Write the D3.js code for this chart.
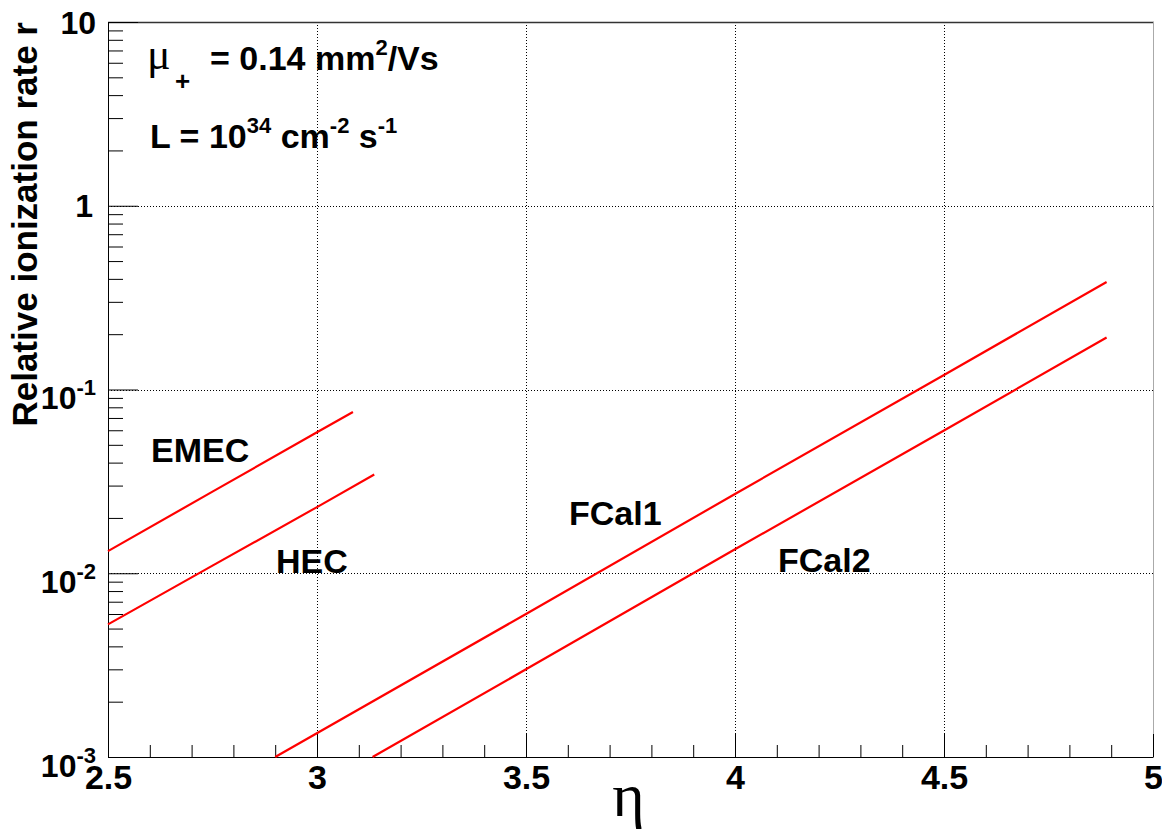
<!DOCTYPE html>
<html><head><meta charset="utf-8">
<script src="https://cdn.jsdelivr.net/npm/d3@7"></script>
<style>
body{margin:0;background:#fff}
svg{display:block}
text{font-family:"Liberation Sans",Arial,Helvetica,sans-serif;font-weight:bold;fill:#000}
</style>
</head><body>
<svg id="c" width="1162" height="833"></svg>
<script>
// ---- data ----
const etaEMEC  = [2.5, 2.75, 3.0, 3.086];
const rEMEC    = [0.0132, 0.0278, 0.0585, 0.0755];
const etaHEC   = [2.5, 2.75, 3.0, 3.137];
const rHEC     = [0.00527, 0.0110, 0.0229, 0.0345];
const etaFCal1 = [2.9, 3.5, 4.0, 4.5, 4.889];
const rFCal1   = [0.0010, 0.0060, 0.0270, 0.120, 0.385];
const etaFCal2 = [3.133, 3.5, 4.0, 4.5, 4.889];
const rFCal2   = [0.0010, 0.0030, 0.0135, 0.0598, 0.192];

const seriesNames = ["EMEC", "HEC", "FCal1", "FCal2"];
const labelEta = [2.603, 2.902, 3.603, 4.103];   // label anchor positions (eta of left edge)
const labelR   = [0.0403, 0.0100, 0.0183, 0.0102];

const xMajorTicks = [2.5, 3, 3.5, 4, 4.5, 5];
const xTickLabels = ["2.5", "3", "3.5", "4", "4.5", "5"];
const xMinorTicks = [2.6,2.7,2.8,2.9,3.1,3.2,3.3,3.4,3.6,3.7,3.8,3.9,4.1,4.2,4.3,4.4,4.6,4.7,4.8,4.9];
const yMajorTicks = [0.001, 0.01, 0.1, 1, 10];
const yTickBase   = ["10", "10", "10", "1", "10"];
const yTickExp    = ["-3", "-2", "-1", "", ""];
const xGrid = [3, 3.5, 4, 4.5, 5];
const yGrid = [0.01, 0.1, 1];

// ---- layout ----
const L = 108, R = 1153, T = 22, B = 757;
const svg = d3.select("#c");
const x = d3.scaleLinear().domain([2.5, 5]).range([L, R]);
const y = d3.scaleLog().domain([0.001, 10]).range([B, T]);

const yMinorTicks = [];
[0.001, 0.01, 0.1, 1].forEach(d => { for (let k = 2; k <= 9; k++) yMinorTicks.push(+(d * k).toPrecision(3)); });

// grid
const grid = svg.append("g").attr("stroke", "#000").attr("stroke-width", 1).attr("stroke-dasharray", "1,2");
grid.selectAll("line.v").data(xGrid).join("line").attr("class","v")
  .attr("x1", d => Math.round(x(d)) + 0.5).attr("x2", d => Math.round(x(d)) + 0.5)
  .attr("y1", T).attr("y2", B);
grid.selectAll("line.h").data(yGrid).join("line").attr("class","h")
  .attr("y1", d => Math.round(y(d)) + 0.5).attr("y2", d => Math.round(y(d)) + 0.5)
  .attr("x1", L).attr("x2", R);

// frame top / right
svg.append("line").attr("x1", L).attr("x2", R + 1).attr("y1", T + 0.5).attr("y2", T + 0.5)
  .attr("stroke", "#333").attr("stroke-width", 1.5);
svg.append("line").attr("x1", R + 0.5).attr("x2", R + 0.5).attr("y1", T).attr("y2", B)
  .attr("stroke", "#aaa").attr("stroke-width", 1);

// x axis
const gxMinor = svg.append("g").attr("transform", `translate(0,${B})`)
  .call(d3.axisBottom(x).tickValues(xMinorTicks).tickSize(-12).tickSizeOuter(0).tickFormat(""));
gxMinor.select(".domain").remove();
const gx = svg.append("g").attr("transform", `translate(0,${B})`)
  .call(d3.axisBottom(x).tickValues(xMajorTicks).tickSize(-23).tickSizeOuter(0)
    .tickFormat((d, i) => xTickLabels[i]));
gx.selectAll("text").attr("y", 32).attr("dy", 0).style("font-size", "34px")
  .style("font-family", '"Liberation Sans",Arial,sans-serif').style("font-weight", "bold");

// y axis
const gyMinor = svg.append("g").attr("transform", `translate(${L},0)`)
  .call(d3.axisLeft(y).tickValues(yMinorTicks).tickSize(-15).tickSizeOuter(0).tickFormat(""));
gyMinor.select(".domain").remove();
const gy = svg.append("g").attr("transform", `translate(${L},0)`)
  .call(d3.axisLeft(y).tickValues(yMajorTicks).tickSize(-30).tickSizeOuter(0).tickFormat(""));
svg.selectAll(".tick line").attr("stroke", "#000");
svg.selectAll(".domain").attr("stroke", "#000");
gy.selectAll(".tick").each(function(d, i) {
  const t = d3.select(this).select("text");
  t.text(null).attr("x", i === 3 ? -15 : -12).attr("dy", 0)
    .attr("y", yTickExp[i] ? 19 : 11)
    .style("font-size", "32px").style("font-family", '"Liberation Sans",Arial,sans-serif')
    .style("font-weight", "bold").attr("text-anchor", "end");
  t.append("tspan").text(yTickBase[i]);
  if (yTickExp[i]) t.append("tspan").attr("dy", -14).style("font-size", "22px").text(yTickExp[i]);
});

// curves
const line = d3.line().x(d => x(d[0])).y(d => y(d[1]));
const curves = [
  d3.zip(etaEMEC, rEMEC), d3.zip(etaHEC, rHEC),
  d3.zip(etaFCal1, rFCal1), d3.zip(etaFCal2, rFCal2)
];
svg.append("g").selectAll("path").data(curves).join("path")
  .attr("d", line).attr("fill", "none").attr("stroke", "#ff0000").attr("stroke-width", 2.2);

// series labels
svg.append("g").selectAll("text").data(seriesNames).join("text")
  .attr("x", (d, i) => x(labelEta[i])).attr("y", (d, i) => y(labelR[i]))
  .style("font-size", "34px").text(d => d);

// titles
svg.append("text").attr("transform", "translate(37,22) rotate(-90)")
  .attr("text-anchor", "end").style("font-size", "35px").text("Relative ionization rate r");
svg.append("text").attr("x", (L + R) / 2 - 2).attr("y", 816).attr("text-anchor", "middle")
  .style("font-family", '"Liberation Serif","DejaVu Serif",serif').style("font-weight", "normal")
  .style("font-size", "62px").text("η");

// annotations
svg.append("text").attr("x", 147).attr("y", 69)
  .style("font-family", '"Liberation Serif","DejaVu Serif",serif').style("font-weight", "normal")
  .style("font-size", "44px").text("μ");
svg.append("text").attr("x", 175).attr("y", 90).style("font-size", "26px").text("+");
const t1 = svg.append("text").attr("x", 210).attr("y", 70).style("font-size", "34px");
t1.append("tspan").text("= 0.14 mm");
t1.append("tspan").attr("dy", -15).style("font-size", "22px").text("2");
t1.append("tspan").attr("dy", 15).text("/Vs");
const t2 = svg.append("text").attr("x", 150).attr("y", 148).style("font-size", "34px");
t2.append("tspan").text("L = 10");
t2.append("tspan").attr("dy", -15).style("font-size", "22px").text("34");
t2.append("tspan").attr("dy", 15).text(" cm");
t2.append("tspan").attr("dy", -15).style("font-size", "22px").text("-2");
t2.append("tspan").attr("dy", 15).text(" s");
t2.append("tspan").attr("dy", -15).style("font-size", "22px").text("-1");
</script>
</body></html>
